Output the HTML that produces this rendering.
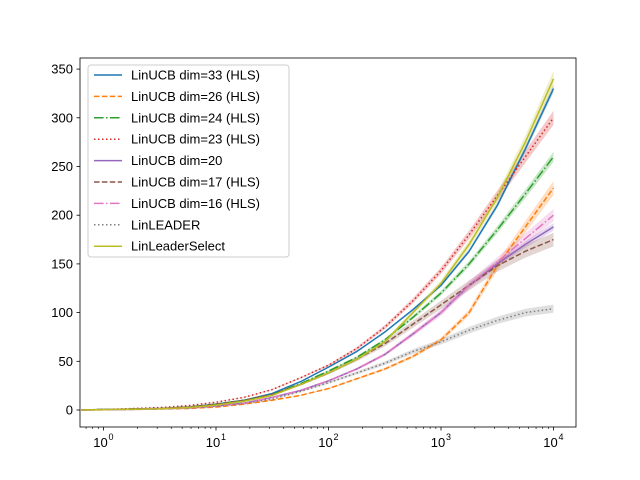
<!DOCTYPE html>
<html><head><meta charset="utf-8"><style>
body{margin:0;background:#fff}
svg{display:block;font-family:"Liberation Sans","DejaVu Sans",sans-serif}
</style></head><body>
<svg id="chart" width="640" height="480" viewBox="0 0 640 480" xmlns="http://www.w3.org/2000/svg">
<rect width="640" height="480" fill="#fff"/>
<g id="bands"></g><g id="lines"></g><g id="axes"></g><g id="legend"></g>
</svg>
<script>
const logX = [-0.2,0,0.25,0.5,0.75,1,1.25,1.5,1.75,2,2.25,2.5,2.75,3,3.25,3.5,3.75,4];
const names = ["LinUCB dim=33 (HLS)","LinUCB dim=26 (HLS)","LinUCB dim=24 (HLS)","LinUCB dim=23 (HLS)","LinUCB dim=20","LinUCB dim=17 (HLS)","LinUCB dim=16 (HLS)","LinLEADER","LinLeaderSelect"];
const sBlue   = [0,0.5,1,1.5,3,6,10,17,29,44,60,80,103,128,163,210,268,330];
const sOrange = [0,0.2,0.5,1,1.5,3,6,10,15,22,32,42,55,72,100,148,188,228];
const sGreen  = [0,0.5,1,1.5,3,6,10,16,27,40,54,72,95,120,150,185,222,260];
const sRed    = [0,0.6,1.5,2.5,4.5,8,13,21,33,46,63,85,112,143,180,220,260,300];
const sPurple = [0,0.3,0.7,1.2,2,4,7,13,20,30,42,57,78,100,128,150,170,188];
const sBrown  = [0,0.5,1,1.5,3,6,10,16,26,38,52,68,88,108,128,148,163,175];
const sPink   = [0,0.3,0.7,1.2,2,4,7,13,20,30,42,57,78,100,128,152,176,200];
const sGray   = [0,0.3,0.8,1.3,2.2,4,7,11,19,28,38,48,60,70,82,92,100,104];
const sYellow = [0,0.4,0.8,1.3,2.5,5,9,15,26,38,52,70,100,130,170,218,275,340];
const bandW   = [0.3,0.8,0.5,0.6,0.5,1,0.8,1,0.6];
const yTicks = [0,50,100,150,200,250,300,350];
const xTicks = [0,1,2,3,4];
const series=[sBlue,sOrange,sGreen,sRed,sPurple,sBrown,sPink,sGray,sYellow];
const colors=["#1f77b4","#ff7f0e","#2ca02c","#d62728","#9467bd","#8c564b","#e377c2","#7f7f7f","#bcbd22"];
const dashes=["","5.5,2.4","9.6,2.4,1.5,2.4","1.5,2.5","","5.5,2.4","9.6,2.4,1.5,2.4","1.5,2.5",""];
const L=80,R=576,T=58,B=427;
const X=v=>103.5+112.5*v, Y=v=>410-0.974*v;
const NS="http://www.w3.org/2000/svg";
function mk(t,a,p){const e=document.createElementNS(NS,t);for(const k in a)e.setAttribute(k,a[k]);p.appendChild(e);return e;}
const bands=document.getElementById('bands'),lines=document.getElementById('lines'),axes=document.getElementById('axes'),leg=document.getElementById('legend');
series.forEach((s,i)=>{
  const up=s.map((v,j)=>X(logX[j])+','+Y(v+bandW[i]*v*0.04));
  const dn=s.map((v,j)=>X(logX[j])+','+Y(v-bandW[i]*v*0.04)).reverse();
  const b=mk('polygon',{points:up.concat(dn).join(' '),fill:colors[i],'fill-opacity':0.25,stroke:'none'},bands);
  
  
  const l=mk('polyline',{points:s.map((v,j)=>X(logX[j])+','+Y(v)).join(' '),fill:'none',stroke:colors[i],'stroke-width':1.5,'stroke-dasharray':dashes[i]},lines);
  
  
});
const fr=mk('rect',{x:L,y:T,width:R-L,height:B-T,fill:'none',stroke:'#000','stroke-width':0.8},axes);


yTicks.forEach(v=>{
  mk('line',{x1:L-3.5,x2:L,y1:Y(v),y2:Y(v),stroke:'#000','stroke-width':0.8},axes);
  const t=mk('text',{x:L-7,y:Y(v)+4.5,'text-anchor':'end','font-size':13},axes);t.textContent=v;
  
  
});
for(let d=-1;d<=4;d++){for(let m=2;m<=9;m++){const x=X(d+Math.log10(m));if(x>L&&x<R)mk('line',{x1:x,x2:x,y1:B,y2:B+2,stroke:'#000','stroke-width':0.6},axes);}}
xTicks.forEach(v=>{
  mk('line',{x1:X(v),x2:X(v),y1:B,y2:B+3.5,stroke:'#000','stroke-width':0.8},axes);
  const t=mk('text',{x:X(v)-3,y:B+20,'text-anchor':'middle','font-size':13},axes);t.textContent='10';
  
  
  const s=mk('text',{x:X(v)+5,y:B+13,'font-size':9},axes);s.textContent=v;
});
const lb=mk('rect',{x:88,y:65,width:201,height:192,rx:3,fill:'#fff','fill-opacity':0.8,stroke:'#ccc','stroke-width':1},leg);


names.forEach((n,i)=>{
  const y=75+i*21.4;
  mk('line',{x1:94,x2:122,y1:y,y2:y,stroke:colors[i],'stroke-width':1.5,'stroke-dasharray':dashes[i]},leg);
  const t=mk('text',{x:131,y:y+4.5,'font-size':13},leg);t.textContent=n;
  
  
});
</script>
</body></html>
